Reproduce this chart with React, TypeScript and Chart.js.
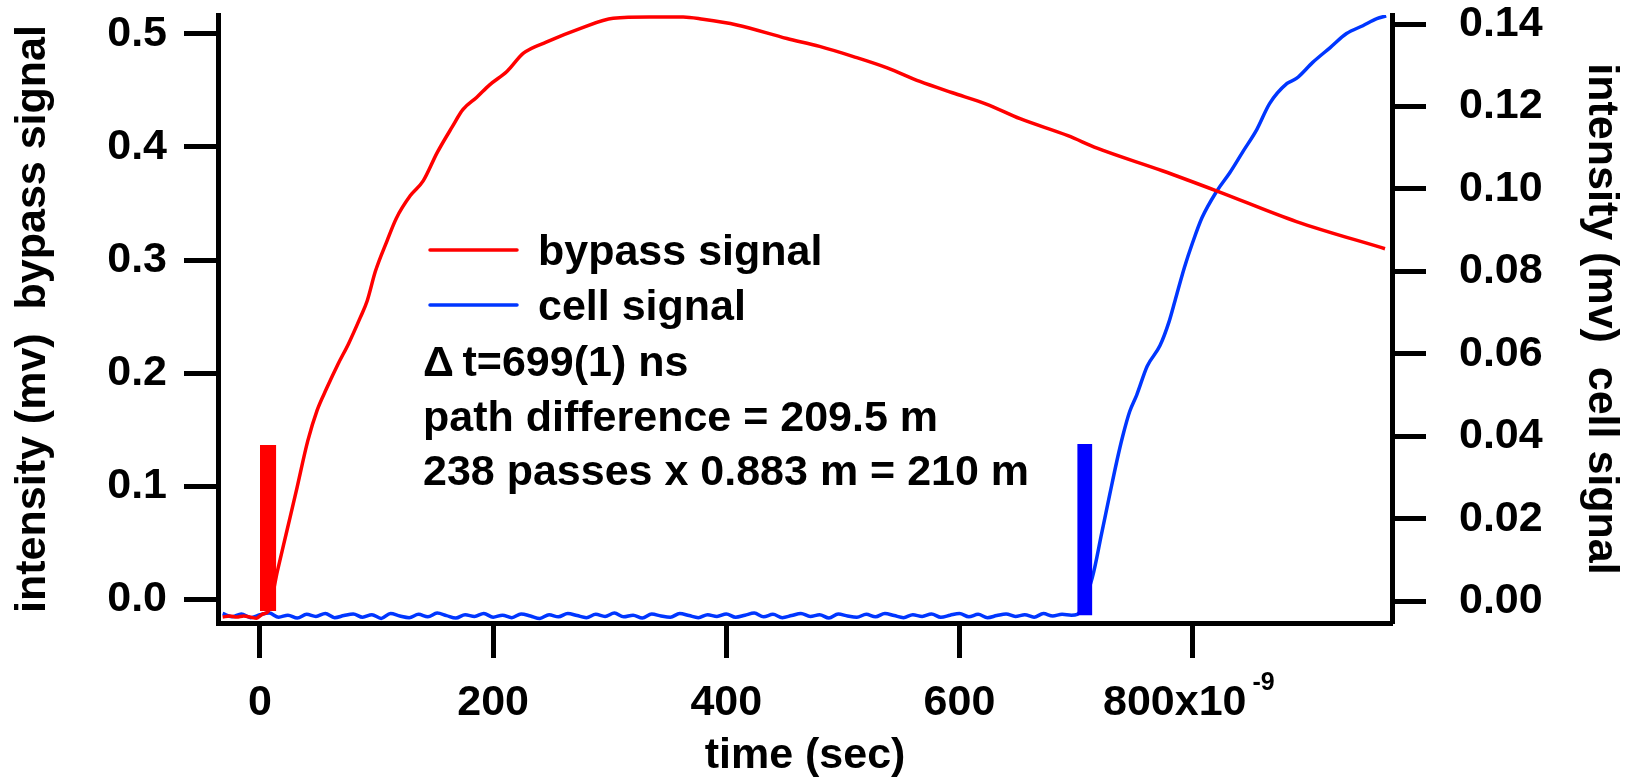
import React, { useEffect, useRef } from "react";
import { Chart, registerables } from "chart.js";

Chart.register(...registerables);

// ---------- data ----------
const timeTicks = [0, 200, 400, 600, 800];
const timeExponent = "-9";
const bypassTicks = [0, 0.1, 0.2, 0.3, 0.4, 0.5];
const cellTicks = [0, 0.02, 0.04, 0.06, 0.08, 0.1, 0.12, 0.14];
const timeRange = [-36, 971];
const bypassRange = [-0.0212, 0.5168];
const cellRange = [-0.0053, 0.1422];

// bypass signal (left axis), time in ns
const bypassTime = [
  -32, -26, -20, -14, -8, -3, 0, 3, 7, 15, 23, 31, 41, 49, 57, 67, 76, 86, 92, 99,
  109, 117, 129, 140, 152, 165, 174, 186, 197, 212, 226, 246, 275, 303, 334, 363,
  380, 409, 452, 480, 509, 538, 566, 594, 623, 652, 693, 718, 774, 821, 889, 965,
];
const bypassSignal = [
  -0.016, -0.015, -0.016, -0.015, -0.016, -0.017, -0.015, -0.013, -0.011, 0.025,
  0.06, 0.095, 0.14, 0.167, 0.186, 0.208, 0.226, 0.249, 0.264, 0.29, 0.317, 0.337,
  0.357, 0.37, 0.395, 0.418, 0.433, 0.444, 0.455, 0.467, 0.483, 0.493, 0.505, 0.514,
  0.515, 0.515, 0.513, 0.508, 0.496, 0.489, 0.48, 0.47, 0.458, 0.448, 0.438, 0.425,
  0.41, 0.399, 0.379, 0.361, 0.334, 0.31,
];

// cell signal (right axis), time in ns
const cellTime = [
  -32, -24, -16, -8, 0, 8, 16, 24, 32, 40, 48, 56, 64, 72, 80, 88, 96, 104, 112, 120,
  128, 136, 144, 152, 160, 168, 176, 184, 192, 200, 208, 216, 224, 232, 240, 248, 256,
  264, 272, 280, 288, 296, 304, 312, 320, 328, 336, 344, 352, 360, 368, 376, 384, 392,
  400, 408, 416, 424, 432, 440, 448, 456, 464, 472, 480, 488, 496, 504, 512, 520, 528,
  536, 544, 552, 560, 568, 576, 584, 592, 600, 608, 616, 624, 632, 640, 648, 656, 664,
  672, 680, 688, 696, 701, 714, 722, 729, 735, 740, 746, 752, 761, 772, 780, 785, 793,
  800, 808, 821, 832, 843, 855, 866, 881, 889, 903, 918, 932, 946, 958, 966,
];
const cellSignal = [
  -0.003, -0.0038, -0.0031, -0.004, -0.0033, -0.0029, -0.0039, -0.0034, -0.0041, -0.0032,
  -0.0037, -0.003, -0.004, -0.0035, -0.0031, -0.0039, -0.0033, -0.0042, -0.003, -0.0036,
  -0.004, -0.0032, -0.0038, -0.0029, -0.0035, -0.0041, -0.0033, -0.0037, -0.003, -0.0039,
  -0.0034, -0.004, -0.0031, -0.0036, -0.0042, -0.0033, -0.0038, -0.003, -0.0035, -0.004,
  -0.0032, -0.0037, -0.0029, -0.0038, -0.0034, -0.0041, -0.0031, -0.0036, -0.0039, -0.003,
  -0.0035, -0.004, -0.0033, -0.0037, -0.0031, -0.0039, -0.0034, -0.0029, -0.0038, -0.0032,
  -0.004, -0.0035, -0.003, -0.0037, -0.0033, -0.0041, -0.0031, -0.0036, -0.0039, -0.0032,
  -0.0038, -0.003, -0.0035, -0.004, -0.0033, -0.0037, -0.0031, -0.0039, -0.0034, -0.003,
  -0.0038, -0.0032, -0.004, -0.0035, -0.0031, -0.0037, -0.0033, -0.0039, -0.003, -0.0036,
  -0.0032, -0.0034, -0.0032, 0.0058, 0.0165, 0.026, 0.034, 0.04, 0.046, 0.05, 0.057,
  0.062, 0.068, 0.073, 0.081, 0.087, 0.093, 0.0996, 0.104, 0.109, 0.1144, 0.1207, 0.1256,
  0.1268, 0.1307, 0.1343, 0.1377, 0.1396, 0.1413, 0.142,
];

// arrival markers: [start, end] time, [bottom, top] value
const bypassMarkerTime = [0, 14];
const bypassMarkerSpan = [-0.0106, 0.1363];
const cellMarkerTime = [701, 714];
const cellMarkerSpan = [-0.0034, 0.0381];

const seriesLabels = ["bypass signal", "cell signal"];
const noteLines = ["\u0394\u2009t=699(1) ns", "path difference = 209.5 m", "238 passes x 0.883 m = 210 m"];

// ---------- styles ----------
const FONT = '"Liberation Sans", Arial, Helvetica, sans-serif';
const RED = "#ff0000";
const BLUE_LINE = "#0036ff";
const BLUE_BAR = "#0000ff";
const W = 1630;
const H = 783;
const LAST_TICK_PAD = "   ";

const legendPlugin = {
  id: "innerLegend",
  afterDraw(chart: any) {
    const ctx = chart.ctx;
    const entries = chart.data.datasets.filter((d: any) => d.label);
    ctx.save();
    ctx.font = `bold 43px ${FONT}`;
    ctx.fillStyle = "#000";
    ctx.textBaseline = "alphabetic";
    ctx.textAlign = "left";
    const lx0 = 430, lx1 = 517, tx = 538;
    let y = 250;
    entries.forEach((d: any) => {
      ctx.strokeStyle = d.borderColor;
      ctx.lineWidth = 3.5;
      ctx.lineCap = "round";
      ctx.beginPath();
      ctx.moveTo(lx0, y);
      ctx.lineTo(lx1, y);
      ctx.stroke();
      ctx.fillText(d.label, tx, y + 15);
      y += 55;
    });
    let ny = 376;
    noteLines.forEach((t) => {
      ctx.fillText(t, 423, ny);
      ny += 54.5;
    });
    ctx.restore();
  },
};

const exponentPlugin = {
  id: "axisExponent",
  afterDraw(chart: any) {
    const xs = chart.scales.x;
    const ctx = chart.ctx;
    const last = timeTicks[timeTicks.length - 1];
    const px = xs.getPixelForValue(last);
    ctx.save();
    ctx.font = `bold 43px ${FONT}`;
    const full = ctx.measureText(`${last}x10${LAST_TICK_PAD}`).width;
    const vis = ctx.measureText(`${last}x10`).width;
    const end = px - full / 2 + vis;
    ctx.font = `bold 25px ${FONT}`;
    ctx.fillStyle = "#000";
    ctx.textAlign = "left";
    ctx.textBaseline = "alphabetic";
    ctx.fillText(timeExponent, end + 6, xs.top + 67);
    ctx.restore();
  },
};

function axisCommon(tickLength: number) {
  return {
    grid: {
      drawOnChartArea: false,
      drawTicks: true,
      tickLength,
      tickWidth: 5,
      tickColor: "#000",
    },
    border: { display: true, color: "#000", width: 5 },
  };
}

export default function App() {
  const ref = useRef<HTMLCanvasElement | null>(null);

  useEffect(() => {
    document.body.style.margin = "0";
    const canvas = ref.current;
    if (!canvas) return;

    const tickFont = { family: FONT, size: 43, weight: "bold" as const };
    const titleFont = { family: FONT, size: 43, weight: "bold" as const };

    const chart = new Chart(canvas, {
      type: "line",
      data: {
        datasets: [
          {
            label: "",
            data: bypassMarkerTime.map((t) => ({ x: t, y: bypassMarkerSpan[1] })),
            yAxisID: "y",
            borderWidth: 0,
            borderColor: RED,
            backgroundColor: RED,
            pointRadius: 0,
            fill: { value: bypassMarkerSpan[0] },
          },
          {
            label: "",
            data: cellMarkerTime.map((t) => ({ x: t, y: cellMarkerSpan[1] })),
            yAxisID: "y2",
            borderWidth: 0,
            borderColor: BLUE_BAR,
            backgroundColor: BLUE_BAR,
            pointRadius: 0,
            fill: { value: cellMarkerSpan[0] },
          },
          {
            label: seriesLabels[0],
            data: bypassTime.map((t, i) => ({ x: t, y: bypassSignal[i] })),
            yAxisID: "y",
            borderColor: RED,
            backgroundColor: RED,
            borderWidth: 3.5,
            pointRadius: 0,
            fill: false,
            cubicInterpolationMode: "monotone",
            borderJoinStyle: "round",
          },
          {
            label: seriesLabels[1],
            data: cellTime.map((t, i) => ({ x: t, y: cellSignal[i] })),
            yAxisID: "y2",
            borderColor: BLUE_LINE,
            backgroundColor: BLUE_LINE,
            borderWidth: 3.5,
            pointRadius: 0,
            fill: false,
            cubicInterpolationMode: "monotone",
            borderJoinStyle: "round",
          },
        ],
      },
      options: {
        animation: false,
        responsive: false,
        maintainAspectRatio: false,
        events: [],
        layout: { padding: { top: 15, left: 0, right: 0, bottom: 0 } },
        plugins: {
          legend: { display: false },
          tooltip: { enabled: false },
        },
        scales: {
          x: {
            type: "linear",
            position: "bottom",
            min: timeRange[0],
            max: timeRange[1],
            afterBuildTicks: (s: any) => {
              s.ticks = timeTicks.map((v) => ({ value: v }));
            },
            afterFit: (s: any) => {
              s.height = 160;
              s.paddingLeft = 0;
              s.paddingRight = 0;
            },
            ticks: {
              font: tickFont,
              color: "#000",
              padding: 19,
              maxRotation: 0,
              autoSkip: false,
              callback: (v: any) =>
                v === timeTicks[timeTicks.length - 1] ? `${v}x10${LAST_TICK_PAD}` : `${v}`,
            },
            title: {
              display: true,
              text: "time (sec)",
              font: titleFont,
              color: "#000",
              padding: { top: 0, bottom: 1 },
            },
            ...axisCommon(35),
          },
          y: {
            type: "linear",
            position: "left",
            min: bypassRange[0],
            max: bypassRange[1],
            afterBuildTicks: (s: any) => {
              s.ticks = bypassTicks.map((v) => ({ value: v }));
            },
            afterFit: (s: any) => {
              s.width = 218;
              s.paddingTop = 0;
              s.paddingBottom = 0;
            },
            ticks: {
              font: tickFont,
              color: "#000",
              padding: 17,
              autoSkip: false,
              callback: (v: any) => Number(v).toFixed(1),
            },
            title: {
              display: true,
              text: "intensity (mv)  bypass signal",
              font: titleFont,
              color: "#000",
              padding: { top: 7, bottom: 0 },
            },
            ...axisCommon(34),
          },
          y2: {
            type: "linear",
            position: "right",
            min: cellRange[0],
            max: cellRange[1],
            afterBuildTicks: (s: any) => {
              s.ticks = cellTicks.map((v) => ({ value: v }));
            },
            afterFit: (s: any) => {
              s.width = W - 1392;
              s.paddingTop = 0;
              s.paddingBottom = 0;
            },
            ticks: {
              font: tickFont,
              color: "#000",
              padding: 33,
              autoSkip: false,
              callback: (v: any) => Number(v).toFixed(2),
            },
            title: {
              display: true,
              text: "intensity (mv)  cell signal",
              font: titleFont,
              color: "#000",
              padding: { top: 3, bottom: 0 },
            },
            ...axisCommon(34),
          },
        },
      } as any,
      plugins: [legendPlugin, exponentPlugin],
    });

    return () => chart.destroy();
  }, []);

  return (
    <div style={{ width: W, height: H, overflow: "hidden", background: "#fff" }}>
      <canvas ref={ref} width={W} height={H} style={{ display: "block", width: W, height: H }} />
    </div>
  );
}
